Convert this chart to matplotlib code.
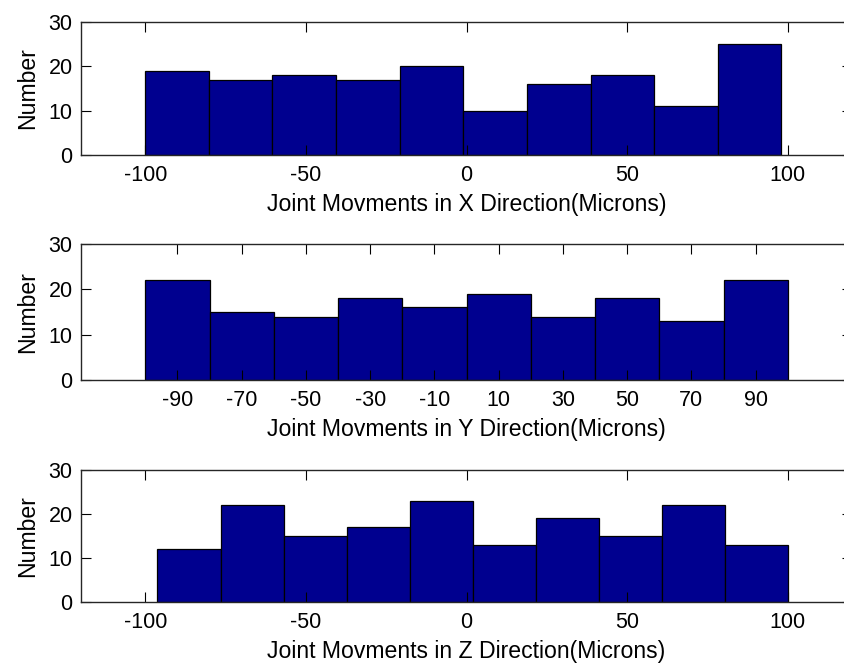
import matplotlib.pyplot as plt
import numpy as np

plt.rcParams['font.family'] = ['Liberation Sans', 'DejaVu Sans']
plt.rcParams['axes.unicode_minus'] = False

# histogram counts per bin (10 bins each)
x_counts = [19, 17, 18, 17, 20, 10, 16, 18, 11, 25]
y_counts = [22, 15, 14, 18, 16, 19, 14, 18, 13, 22]
z_counts = [12, 22, 15, 17, 23, 13, 19, 15, 22, 13]

# data range covered by the bins
x_range = (-100.0, 98.0)
y_range = (-100.0, 100.0)
z_range = (-96.2, 100.0)

x_ticks = [-100, -50, 0, 50, 100]
y_ticks = [-90, -70, -50, -30, -10, 10, 30, 50, 70, 90]
z_ticks = [-100, -50, 0, 50, 100]

labels = ["Joint Movments in X Direction(Microns)",
          "Joint Movments in Y Direction(Microns)",
          "Joint Movments in Z Direction(Microns)"]

bar_color = "#00008f"
fs = 15.5

fig = plt.figure(figsize=(8.45, 6.64), dpi=100)

# axes boxes in figure fractions: left, bottom, width, height
boxes = [(0.0959, 0.7666, 0.9124, 0.2003),
         (0.0959, 0.4277, 0.9124, 0.2048),
         (0.0959, 0.0934, 0.9124, 0.1988)]

panels = [(x_counts, x_range, x_ticks),
          (y_counts, y_range, y_ticks),
          (z_counts, z_range, z_ticks)]

for box, (counts, rng, ticks), label in zip(boxes, panels, labels):
    ax = fig.add_axes(box)
    edges = np.linspace(rng[0], rng[1], len(counts) + 1)
    ax.bar(edges[:-1], counts, width=np.diff(edges), align="edge",
           color=bar_color, edgecolor="black", linewidth=0.9)
    ax.set_xlim(-120, 120)
    ax.set_ylim(0, 30)
    ax.set_xticks(ticks)
    ax.set_yticks([0, 10, 20, 30])
    ax.tick_params(direction="in", length=7, width=0.8, top=True,
                   right=True, labelsize=fs, color="black")
    ax.tick_params(axis="x", pad=7)
    ax.tick_params(axis="y", pad=6)
    for sp in ax.spines.values():
        sp.set_linewidth(1.0)
        sp.set_color("#262626")
    ax.set_xlabel(label, fontsize=16.6, labelpad=5)
    ax.set_ylabel("Number", fontsize=16.6, labelpad=7)

plt.savefig("out.png", dpi=100)
